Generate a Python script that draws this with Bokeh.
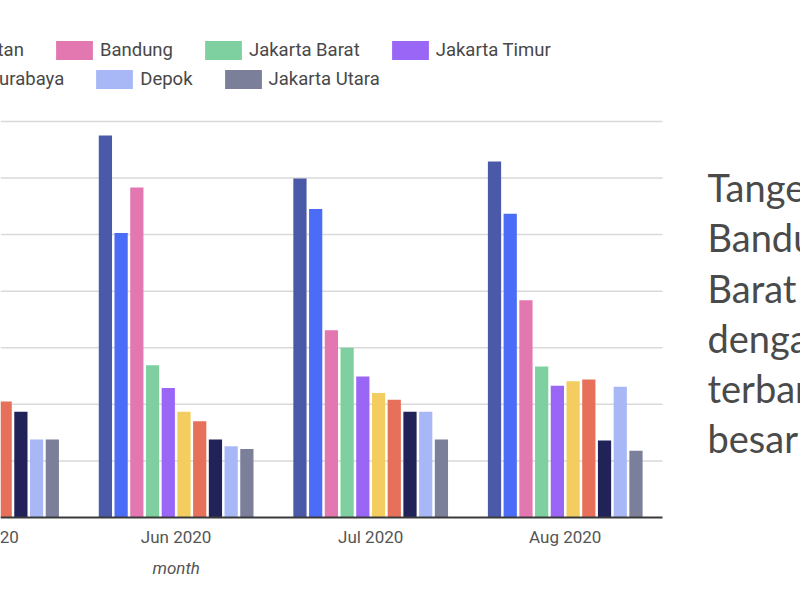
import numpy as np
from bokeh.plotting import figure
from bokeh.models import (Range1d, Legend, LegendItem, Label, LabelSet, ColumnDataSource)
from bokeh.core.properties import value
from bokeh.transform import dodge
from bokeh.embed import file_html
from bokeh.resources import INLINE

# ---------------- data ----------------
months = ["May 2020", "Jun 2020", "Jul 2020", "Aug 2020"]
month_idx = [0, 1, 2, 3]

series_names = ["Tangerang", "Jakarta Selatan", "Bandung", "Jakarta Barat", "Jakarta Timur",
                "Bekasi", "Bogor", "Surabaya", "Depok", "Jakarta Utara"]
series_colors = ["#4a5aa8", "#4a6cf7", "#e377b0", "#7ed0a0", "#9a66f6",
                 "#f3cd60", "#e6705a", "#202258", "#a8b8f7", "#7b7f99"]

nan = float("nan")
# values per series: May, Jun, Jul, Aug  (May bars 1-6 lie outside the visible crop)
tangerang       = [nan, 675, 599, 629]
jakarta_selatan = [nan, 503, 545, 537]
bandung         = [nan, 583, 331, 384]
jakarta_barat   = [nan, 269, 300, 267]
jakarta_timur   = [nan, 229, 249, 233]
bekasi          = [nan, 187, 220, 241]
bogor           = [205, 170, 208, 244]
surabaya        = [187, 138, 187, 136]
depok           = [138, 126, 187, 231]
jakarta_utara   = [138, 121, 138, 118]
series_values = [tangerang, jakarta_selatan, bandung, jakarta_barat, jakarta_timur,
                 bekasi, bogor, surabaya, depok, jakarta_utara]

grid_values = [100, 200, 300, 400, 500, 600, 700]

right_text_lines = ["Tangerang", "Bandung", "Barat", "dengan", "terbanyak", "besar"]

# ---------------- figure ----------------
X_START, X_END = 0.0972, 3.5          # visible plot area (chart part)
p = figure(width=800, height=600,
           x_range=Range1d(X_START, X_START + 800 / 194.55),
           y_range=Range1d(-146.7, 913.7),
           x_axis_location=None, y_axis_location=None,
           toolbar_location=None, output_backend="svg",
           min_border=0, outline_line_color=None,
           background_fill_color="white", border_fill_color="white")
for g in p.grid:
    g.visible = False

# gridlines limited to the chart area
n = len(grid_values)
p.segment(x0=[X_START] * n, x1=[X_END] * n, y0=grid_values, y1=grid_values,
          line_color="#d9d9d9", line_width=1.5)

data = {"idx": month_idx}
for name, vals in zip(series_names, series_values):
    data[name] = vals
src = ColumnDataSource(data)

pitch = 0.0808
renderers = []
for k, (name, color) in enumerate(zip(series_names, series_colors)):
    r = p.vbar(x=dodge("idx", (k - 4.5) * pitch, range=p.x_range), top=name,
               width=0.068, source=src, fill_color=color, line_color=None)
    renderers.append(r)

# baseline
p.segment(x0=[X_START], x1=[X_END], y0=[0], y1=[0], line_color="#3a3a3a", line_width=2)

# month labels
lab_src = ColumnDataSource({"idx": month_idx, "m": months})
p.add_layout(LabelSet(x="idx", y=63.5, y_units="screen", text="m", source=lab_src,
                      text_align="center", text_baseline="middle",
                      text_font=value("Roboto"), text_font_size=value("17px"),
                      text_color=value("#555555")))
p.add_layout(Label(x=1, y=33, y_units="screen", text="month", text_align="center",
                   text_baseline="middle", text_font="Roboto", text_font_size="17px",
                   text_font_style="italic", text_color="#555555"))

# legends (two rows)
def make_legend(items, vy):
    return Legend(items=items, location=(-317, vy), orientation="horizontal",
                  glyph_width=46, glyph_height=24, label_standoff=3, spacing=27,
                  padding=0, margin=0, border_line_color=None, background_fill_alpha=0,
                  label_text_font="Roboto", label_text_font_size="18.5px",
                  label_text_color="#484848", label_height=24)

row1 = [LegendItem(label=series_names[i], renderers=[renderers[i]]) for i in range(0, 5)]
row2 = [LegendItem(label=series_names[i], renderers=[renderers[i]]) for i in range(5, 10)]
p.add_layout(make_legend(row1, 538))
p.add_layout(make_legend(row2, 509))

# right-side text
baselines = [414, 364, 313, 263, 213, 163]
for line, yb in zip(right_text_lines, baselines):
    p.add_layout(Label(x=707, y=yb, x_units="screen", y_units="screen", text=line,
                       text_baseline="alphabetic", text_font="Lato", text_font_size="38px",
                       text_color="#4a4a4a"))

open("out.html", "w").write(file_html(p, INLINE))
